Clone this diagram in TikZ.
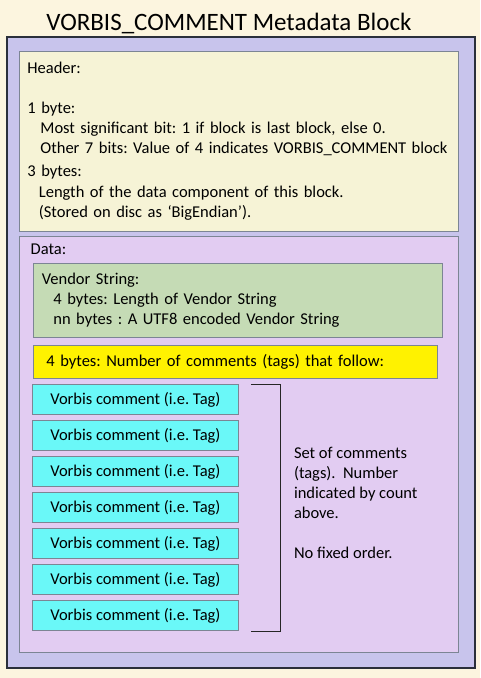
\documentclass[tikz,border=0pt]{standalone}
\usepackage{fontspec}
\setmainfont{Carlito}
\usetikzlibrary{positioning,calc}
\frenchspacing

\definecolor{pagebg}{HTML}{FCF5DF}
\definecolor{outerfill}{HTML}{C8C4EC}
\definecolor{outerline}{HTML}{2A2F3A}
\definecolor{headfill}{HTML}{F6F3D6}
\definecolor{datafill}{HTML}{E2CCF2}
\definecolor{vendfill}{HTML}{C5DBB5}
\definecolor{tagfill}{HTML}{6AF8F8}
\definecolor{boxline}{HTML}{7C8594}

\begin{document}
\begin{tikzpicture}[
  x=1pt, y=-1pt,
  font=\fontsize{16.5}{20}\selectfont,
  frame/.style={draw=outerline, line width=2pt, fill=outerfill, anchor=north west, inner sep=0pt},
  panel/.style={draw=boxline, line width=0.8pt, anchor=north west, inner ysep=0pt, align=left},
  tagbox/.style={draw=boxline, line width=0.8pt, fill=tagfill, minimum width=206pt, minimum height=29.5pt, inner sep=0pt},
  lab/.style={inner sep=0pt, align=left},
  brk/.style={draw=black!85, line width=1.4pt}
]
\fill[pagebg] (0,0) rectangle (480,678);
\useasboundingbox (0,0) rectangle (480,678);

% ---------- Title and outer block ----------
\node[font=\fontsize{25}{30}\selectfont, anchor=base] (title) at (229,30) {VORBIS\_COMMENT Metadata Block};
\node[frame, minimum width=468pt, minimum height=631pt] (outer) at (6,36) {};

% ---------- Header ----------
\node[panel, fill=headfill, minimum height=180pt, text width=423pt, inner xsep=8pt] (header) at (19,51)
  {Header:\\[20pt]
   1 byte:\\
   \hspace*{13pt}Most significant bit: 1 if block is last block, else 0.\\
   \hspace*{13pt}Other 7 bits: Value of 4 indicates VORBIS\_COMMENT block\\[3pt]
   3 bytes:\\[1pt]
   \hspace*{11.5pt}Length of the data component of this block.\\
   \hspace*{11.5pt}(Stored on disc as ‘BigEndian’).};

% ---------- Data ----------
\node[panel, fill=datafill, minimum width=439pt, minimum height=416pt, inner sep=0pt] (data) at (19,236) {};
\node[lab, anchor=base west] (datalab) at ($(data.north west)+(11.5,18)$) {Data:};

\node[panel, fill=vendfill, minimum height=74pt, text width=392pt, inner xsep=8.5pt] (vendor) at (33,263)
  {Vendor String:\\
   \hspace*{11.5pt}4 bytes: Length of Vendor String\\
   \hspace*{11.5pt}nn bytes : A UTF8 encoded Vendor String};

\node[panel, fill=yellow, minimum height=33pt, text width=378pt, inner xsep=13pt] (count) at (33,345)
  {4 bytes: Number of comments (tags) that follow:};

% ---------- Comments (tags) ----------
\node[tagbox, anchor=north west] (tag1) at ($(count.south west)+(-1,5.5)$) {Vorbis comment (i.e. Tag)};
\foreach \i in {2,...,7}{
  \pgfmathtruncatemacro\prev{\i-1}
  \node[tagbox, below=5.7pt of tag\prev] (tag\i) {Vorbis comment (i.e. Tag)};
}

% ---------- Bracket and note ----------
\coordinate (brtop) at ($(tag1.north east)+(12,0)$);
\coordinate (brbot) at ($(tag7.south east)+(12,1)$);
\coordinate (brmid) at ($(brtop)!0.5!(brbot)+(29.5,0)$);
\draw[brk] (brtop) -- ++(29.5,0) |- (brbot);
\node[lab, right=13.5pt of brmid, yshift=5pt] (note)
  {Set of comments\\(tags).\ \ Number\\indicated by count\\above.\\[20pt]No fixed order.};
\end{tikzpicture}
\end{document}
